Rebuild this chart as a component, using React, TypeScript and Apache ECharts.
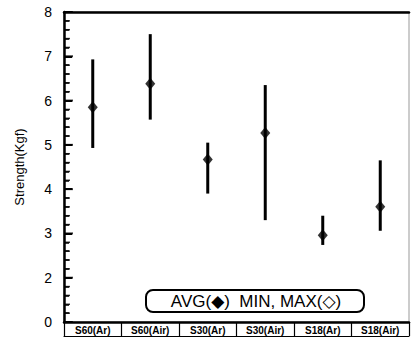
import React, { useEffect, useRef } from "react";
import * as echarts from "echarts";

const categories = ["S60(Ar)", "S60(Air)", "S30(Ar)", "S30(Air)", "S18(Ar)", "S18(Air)"];
const avgValues = [5.85, 6.38, 4.67, 5.27, 2.96, 3.6];
const minValues = [4.93, 5.57, 3.9, 3.3, 2.74, 3.06];
const maxValues = [6.93, 7.5, 5.05, 6.35, 3.4, 4.65];
const yTicks = [1, 2, 3, 4, 5, 6, 7, 8];
const yLabelMap: Record<number, string> = { 1: "0", 2: "2", 3: "3", 4: "4", 5: "5", 6: "6", 7: "7", 8: "8" };
const minorPerMajor = 5;

export default function App() {
  const ref = useRef<HTMLDivElement>(null);
  useEffect(() => {
    if (!ref.current) return;
    const chart = echarts.init(ref.current, null, { renderer: "svg" });
    const font = "Liberation Sans, Arial, Helvetica, sans-serif";
    const errData = categories.map((c, i) => [i, minValues[i], maxValues[i]]);
    const minMax = [
      ...categories.map((c, i) => [i, minValues[i]]),
      ...categories.map((c, i) => [i, maxValues[i]]),
    ];
    const majorTickData = yTicks.map((t) => [0, t]);
    const minorTickData: number[][] = [];
    yTicks.slice(0, -1).forEach((t) => {
      for (let j = 1; j < minorPerMajor; j++) minorTickData.push([0, t + j / minorPerMajor]);
    });
    const gridLeft = 64;
    const gridRight = 2;
    const band = (411 - gridLeft - gridRight) / categories.length;
    chart.setOption({
      animation: false,
      grid: { left: gridLeft, top: 12, right: gridRight, bottom: 19, show: true, borderColor: "#999", borderWidth: 1 },
      xAxis: [
        {
          type: "category",
          data: categories,
          position: "bottom",
          boundaryGap: true,
          axisLine: { show: true, lineStyle: { color: "#000", width: 2.5 } },
          axisTick: { show: true, inside: false, length: 14, lineStyle: { color: "#000", width: 1.2 } },
          axisLabel: {
            margin: 3,
            fontSize: 10,
            fontWeight: "bold",
            color: "#000",
            fontFamily: "Liberation Sans Narrow, Liberation Sans, Arial, sans-serif",
          },
          splitLine: { show: false },
        },
        {
          type: "category",
          data: categories,
          position: "bottom",
          offset: 14,
          axisLine: { show: true, lineStyle: { color: "#000", width: 1.2 } },
          axisTick: { show: false },
          axisLabel: { show: false },
        },
        {
          type: "category",
          data: categories,
          position: "top",
          axisLine: { show: true, lineStyle: { color: "#000", width: 2.5 } },
          axisTick: { show: false },
          axisLabel: { show: false },
        },
      ],
      yAxis: [
        {
          type: "value",
          min: yTicks[0],
          max: yTicks[yTicks.length - 1],
          interval: 1,
          position: "left",
          name: "Strength(Kgf)",
          nameLocation: "middle",
          nameGap: 38,
          nameTextStyle: { fontSize: 13, color: "#000", fontFamily: font },
          axisLine: { show: true, lineStyle: { color: "#000", width: 2.5 } },
          axisTick: { show: true, inside: true, length: 8, lineStyle: { color: "#000", width: 2 } },
          minorTick: { show: true, splitNumber: minorPerMajor, length: 5, lineStyle: { color: "#000", width: 1.5 } },
          axisLabel: {
            show: true,
            fontSize: 14,
            color: "#000",
            fontFamily: font,
            margin: 12,
            formatter: (v: number) => yLabelMap[v] ?? "",
          },
          splitLine: { show: false },
          minorSplitLine: { show: false },
        },
      ],
      series: [
        {
          type: "scatter",
          data: majorTickData,
          symbol: "rect",
          symbolSize: [9, 2],
          symbolOffset: [-band / 2 + 4.5, 0],
          itemStyle: { color: "#000" },
          silent: true,
          clip: false,
          z: 6,
        },
        {
          type: "scatter",
          data: minorTickData,
          symbol: "rect",
          symbolSize: [6, 1.5],
          symbolOffset: [-band / 2 + 3, 0],
          itemStyle: { color: "#000" },
          silent: true,
          clip: false,
          z: 6,
        },
        {
          type: "custom",
          xAxisIndex: 0,
          yAxisIndex: 0,
          data: errData,
          encode: { x: 0, y: [1, 2] },
          renderItem: (params: any, api: any) => {
            const p1 = api.coord([api.value(0), api.value(1)]);
            const p2 = api.coord([api.value(0), api.value(2)]);
            return {
              type: "line",
              shape: { x1: p1[0], y1: p1[1], x2: p2[0], y2: p2[1] },
              style: { stroke: "#000", lineWidth: 3 },
            };
          },
          z: 2,
        },
        {
          type: "scatter",
          data: minMax,
          symbol: "emptyCircle",
          symbolSize: 5,
          itemStyle: { color: "#fff", borderColor: "#999", borderWidth: 1 },
          z: 1,
        },
        {
          type: "scatter",
          data: categories.map((c, i) => [i, avgValues[i]]),
          symbol: "diamond",
          symbolSize: [10, 12],
          itemStyle: { color: "#000" },
          z: 3,
        },
      ],
      graphic: [
        {
          type: "group",
          left: 145,
          top: 289,
          children: [
            {
              type: "rect",
              shape: { x: 0, y: 0, width: 218, height: 22, r: 7 },
              style: { fill: "#fff", stroke: "#000", lineWidth: 2 },
            },
            {
              type: "text",
              x: 110,
              y: 11,
              style: {
                text: "AVG(\u25C6)  MIN, MAX(\u25C7)",
                font: "17px Liberation Sans, Arial, DejaVu Sans, sans-serif",
                fill: "#000",
                align: "center",
                verticalAlign: "middle",
              },
            },
          ],
        },
      ],
    });
    return () => chart.dispose();
  }, []);
  return <div ref={ref} style={{ width: 411, height: 341, position: "absolute", left: 0, top: 0, background: "#fff" }} />;
}
